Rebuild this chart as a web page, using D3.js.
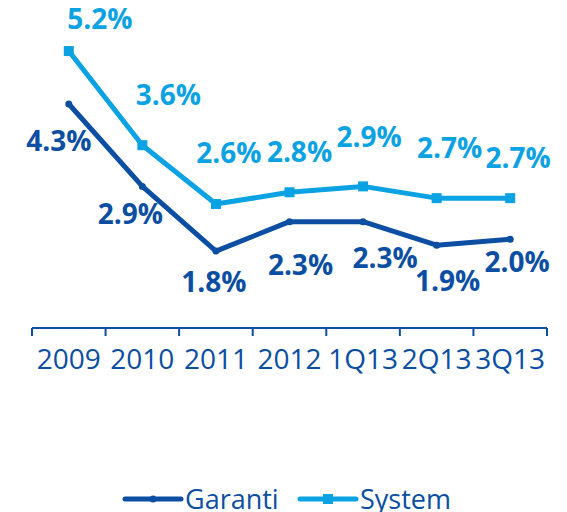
<!DOCTYPE html>
<html>
<head>
<meta charset="utf-8">
<script src="https://cdn.jsdelivr.net/npm/d3@7"></script>
<style>
  html, body { margin: 0; padding: 0; background: #fff; }
  svg { display: block; font-family: "Open Sans", sans-serif; }
</style>
</head>
<body>
<div id="chart"></div>
<script>
// data
const categories = ['2009', '2010', '2011', '2012', '1Q13', '2Q13', '3Q13'];
const garanti = [4.3, 2.9, 1.8, 2.3, 2.3, 1.9, 2.0];
const system = [5.2, 3.6, 2.6, 2.8, 2.9, 2.7, 2.7];

// label nudges (dx, dy from the point), picked to sit like the original
const systemLabelOffsets = [[31, -22], [26, -40], [13, -41], [10, -30], [6, -39], [13, -40], [8, -30]];
const garantiLabelOffsets = [[-10, 47], [-12, 38], [-2, 41], [11, 53], [22, 46], [11, 46], [7, 33]];

const width = 567, height = 512;
const darkBlue = '#0b4ea2';
const lightBlue = '#0aa2e2';

const svg = d3.select('#chart').append('svg')
    .attr('width', width)
    .attr('height', height);

const x = d3.scaleBand()
    .domain(categories)
    .range([32, 547]);

const y = d3.scaleLinear()
    .domain([0, 6])
    .range([357, 4]);

const cx = c => x(c) + x.bandwidth() / 2;

// x axis
const axisY = 328;
const axis = svg.append('g')
    .attr('transform', `translate(0,${axisY})`);

axis.append('line')
    .attr('x1', 32).attr('x2', 547)
    .attr('stroke', darkBlue)
    .attr('stroke-width', 2);

const tickPos = categories.map(c => x(c)).concat([x(categories[categories.length - 1]) + x.bandwidth()]);
axis.selectAll('.tick')
    .data(tickPos)
    .enter()
    .append('line')
    .attr('x1', d => d).attr('x2', d => d)
    .attr('y1', 0).attr('y2', 8)
    .attr('stroke', darkBlue)
    .attr('stroke-width', 2);

axis.selectAll('.cat')
    .data(categories)
    .enter()
    .append('text')
    .attr('x', d => cx(d))
    .attr('y', 41)
    .attr('text-anchor', 'middle')
    .attr('fill', darkBlue)
    .style('font-size', '28px')
    .text(d => d);

// lines
const line = d3.line()
    .x((d, i) => cx(categories[i]))
    .y(d => y(d));

svg.append('path')
    .datum(system)
    .attr('d', line)
    .attr('fill', 'none')
    .attr('stroke', lightBlue)
    .attr('stroke-width', 5)
    .attr('stroke-linejoin', 'round');

svg.append('path')
    .datum(garanti)
    .attr('d', line)
    .attr('fill', 'none')
    .attr('stroke', darkBlue)
    .attr('stroke-width', 5)
    .attr('stroke-linejoin', 'round')
    .attr('stroke-linecap', 'round');

// markers
svg.selectAll('.sysmark')
    .data(system)
    .enter()
    .append('rect')
    .attr('x', (d, i) => cx(categories[i]) - 5)
    .attr('y', d => y(d) - 5)
    .attr('width', 10)
    .attr('height', 10)
    .attr('fill', lightBlue);

svg.selectAll('.garmark')
    .data(garanti)
    .enter()
    .append('circle')
    .attr('cx', (d, i) => cx(categories[i]))
    .attr('cy', d => y(d))
    .attr('r', 3.5)
    .attr('fill', darkBlue);

// value labels
const fmt = d => d.toFixed(1) + '%';

svg.selectAll('.syslabel')
    .data(system)
    .enter()
    .append('text')
    .attr('x', (d, i) => cx(categories[i]) + systemLabelOffsets[i][0])
    .attr('y', (d, i) => y(d) + systemLabelOffsets[i][1])
    .attr('text-anchor', 'middle')
    .attr('fill', lightBlue)
    .style('font-size', '28px')
    .style('font-weight', 'bold')
    .text(fmt);

svg.selectAll('.garlabel')
    .data(garanti)
    .enter()
    .append('text')
    .attr('x', (d, i) => cx(categories[i]) + garantiLabelOffsets[i][0])
    .attr('y', (d, i) => y(d) + garantiLabelOffsets[i][1])
    .attr('text-anchor', 'middle')
    .attr('fill', darkBlue)
    .style('font-size', '28px')
    .style('font-weight', 'bold')
    .text(fmt);

// legend
const legendItems = [
    { name: 'Garanti', color: darkBlue, mark: 'circle', x: 125 },
    { name: 'System', color: lightBlue, mark: 'rect', x: 300 }
];
const legend = svg.append('g').attr('transform', 'translate(0,499)');

legendItems.forEach(item => {
    const g = legend.append('g').attr('transform', `translate(${item.x},0)`);
    g.append('line')
        .attr('x1', 0).attr('x2', 56)
        .attr('stroke', item.color)
        .attr('stroke-width', 5)
        .attr('stroke-linecap', 'round');
    if (item.mark === 'rect') {
        g.append('rect')
            .attr('x', 23).attr('y', -5)
            .attr('width', 10).attr('height', 10)
            .attr('fill', item.color);
    } else {
        g.append('circle')
            .attr('cx', 28).attr('r', 3.5)
            .attr('fill', item.color);
    }
    g.append('text')
        .attr('x', 60)
        .attr('y', 10)
        .attr('fill', darkBlue)
        .style('font-size', '27px')
        .text(item.name);
});
</script>
</body>
</html>
